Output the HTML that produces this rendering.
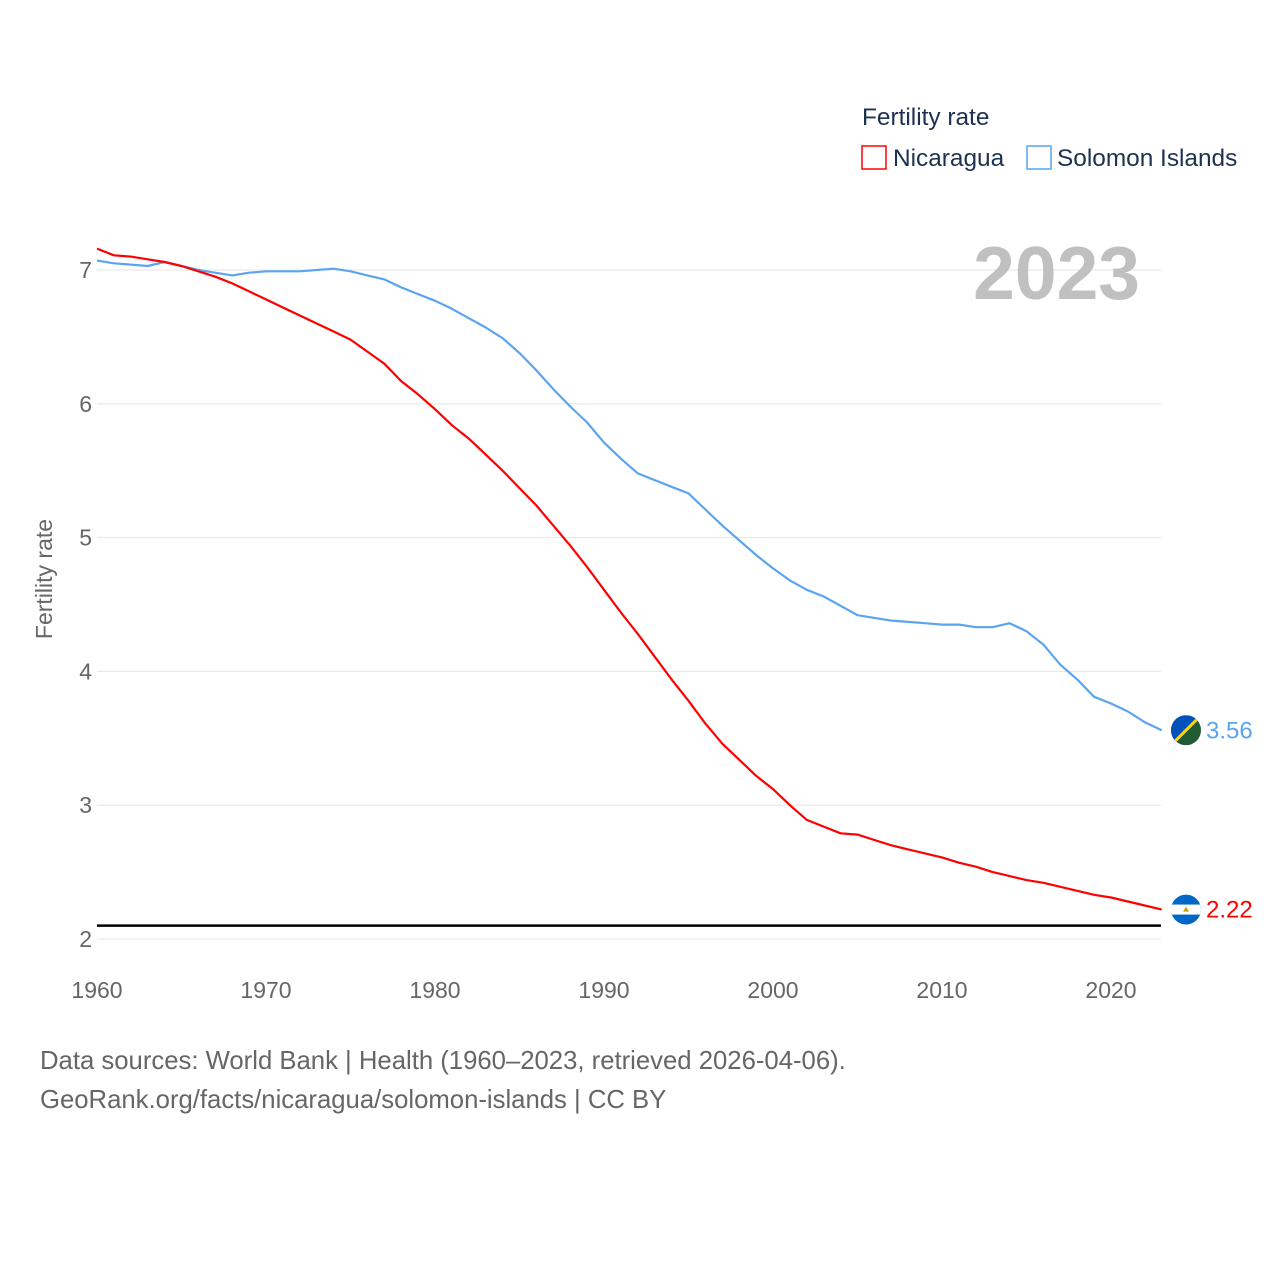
<!DOCTYPE html>
<html><head><meta charset="utf-8"><style>
body{margin:0;background:#fff;font-family:"Liberation Sans",sans-serif;}
svg text{font-family:"Liberation Sans",sans-serif;}
</style></head><body>
<svg id="chart" width="1280" height="1280" viewBox="0 0 1280 1280">
<rect width="1280" height="1280" fill="#fff"/>
<g id="grid"></g>
<g id="yticks"></g>
<g id="xticks"></g>
<text x="52" y="579" transform="rotate(-90 52 579)" text-anchor="middle" font-size="23" fill="#666">Fertility rate</text>
<text x="1140" y="299" text-anchor="end" font-size="75" font-weight="bold" fill="#c0c0c0">2023</text>
<g>
<text x="862" y="125" font-size="24.4" fill="#1d3150">Fertility rate</text>
<g><rect x="862" y="146" width="24" height="23" fill="none" stroke="#ff0000" stroke-width="1.5"/><text x="893" y="166" font-size="24.4" fill="#1d3150">Nicaragua</text></g>
<g><rect x="1027" y="146" width="24" height="23" fill="none" stroke="#5ba4f0" stroke-width="1.5"/><text x="1057" y="166" font-size="24.4" fill="#1d3150">Solomon Islands</text></g>
</g>
<g id="series"></g>
<text x="40" y="1069" font-size="25.7" fill="#666">Data sources: World Bank | Health (1960–2023, retrieved 2026-04-06).</text>
<text x="40" y="1108" font-size="25.7" fill="#666">GeoRank.org/facts/nicaragua/solomon-islands | CC BY</text>
</svg>
<script>
const years=[];for(let y=1960;y<=2023;y++)years.push(y);
const nicaragua=[7.16,7.11,7.10,7.08,7.06,7.03,6.99,6.95,6.90,6.84,6.78,6.72,6.66,6.60,6.54,6.48,6.39,6.30,6.17,6.07,5.96,5.84,5.74,5.62,5.50,5.37,5.24,5.09,4.94,4.78,4.61,4.44,4.28,4.11,3.94,3.78,3.61,3.46,3.34,3.22,3.12,3.00,2.89,2.84,2.79,2.78,2.74,2.70,2.67,2.64,2.61,2.57,2.54,2.50,2.47,2.44,2.42,2.39,2.36,2.33,2.31,2.28,2.25,2.22];
const solomon=[7.07,7.05,7.04,7.03,7.06,7.03,7.00,6.98,6.96,6.98,6.99,6.99,6.99,7.00,7.01,6.99,6.96,6.93,6.87,6.82,6.77,6.71,6.64,6.57,6.49,6.38,6.25,6.11,5.98,5.86,5.71,5.59,5.48,5.43,5.38,5.33,5.21,5.09,4.98,4.87,4.77,4.68,4.61,4.56,4.49,4.42,4.40,4.38,4.37,4.36,4.35,4.35,4.33,4.33,4.36,4.30,4.20,4.05,3.94,3.81,3.76,3.70,3.62,3.56];
const yTicks=[2,3,4,5,6,7];
const xTicks=[1960,1970,1980,1990,2000,2010,2020];
const replacement=2.1;
const X=v=>97+(v-1960)*(1111-97)/60;
const Y=v=>939-(v-2)*(939-270)/5;
const NS="http://www.w3.org/2000/svg";
function mk(tag,attrs,parent,txt){const e=document.createElementNS(NS,tag);for(const k in attrs)e.setAttribute(k,attrs[k]);if(txt!==undefined)e.textContent=txt;parent.appendChild(e);return e;}
const grid=document.getElementById('grid'),yt=document.getElementById('yticks'),xt=document.getElementById('xticks'),ser=document.getElementById('series');
yTicks.forEach(t=>{
 const l=mk('line',{x1:97,x2:1161,y1:Y(t),y2:Y(t),stroke:'#e6e6e6','stroke-width':1},grid);
 
 
 const tx=mk('text',{x:92,y:Y(t)+8,'text-anchor':'end','font-size':23,fill:'#666'},yt,String(t));
 
 
});
xTicks.forEach(t=>{
 const tx=mk('text',{x:X(t),y:998,'text-anchor':'middle','font-size':23,fill:'#666'},xt,String(t));
 
 
});
const rl=mk('line',{x1:97,x2:1161,y1:Y(replacement),y2:Y(replacement),stroke:'#000','stroke-width':2.5},ser);


function line(data,color,name){
 const d=data.map((v,i)=>(i?'L':'M')+X(years[i]).toFixed(1)+','+Y(v).toFixed(1)).join('');
 const p=mk('path',{d:d,fill:'none',stroke:color,'stroke-width':2.2,'stroke-linejoin':'round'},ser);
 
 
 const last=data[data.length-1];
 const tx=mk('text',{x:1206,y:Y(last)+8,'font-size':24,fill:color},ser,last.toFixed(2));
 
 
 return Y(last);
}
const ys=line(solomon,'#5ba4f0','solomon-islands');
const yn=line(nicaragua,'#ff0000','nicaragua');
const fs=mk('g',{},ser);


mk('clipPath',{id:'cs'},fs);
mk('circle',{cx:1186,cy:ys,r:15},document.getElementById('cs'));
const gs=mk('g',{'clip-path':'url(#cs)'},fs);
mk('rect',{x:1171,y:ys-15,width:30,height:30,fill:'#215b33'},gs);
mk('polygon',{points:`1171,${ys-15} 1201,${ys-15} 1171,${ys+15}`,fill:'#0051ba'},gs);
mk('line',{x1:1171,y1:ys+15,x2:1201,y2:ys-15,stroke:'#fcd116','stroke-width':3},gs);
const fn=mk('g',{},ser);


mk('clipPath',{id:'cn'},fn);
mk('circle',{cx:1186,cy:yn,r:15},document.getElementById('cn'));
const gn=mk('g',{'clip-path':'url(#cn)'},fn);
mk('rect',{x:1171,y:yn-15,width:30,height:30,fill:'#0067c6'},gn);
mk('rect',{x:1171,y:yn-5,width:30,height:10,fill:'#fff'},gn);
mk('polygon',{points:`1186,${yn-3} 1189,${yn+2} 1183,${yn+2}`,fill:'#c8a200'},gn);
</script>
</body></html>
